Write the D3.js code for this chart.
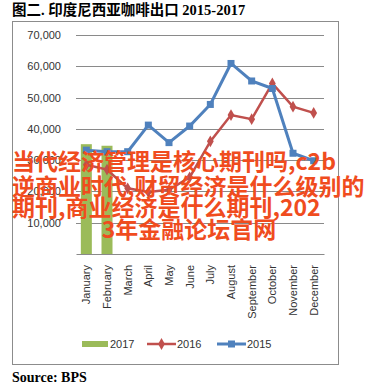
<!DOCTYPE html>
<html>
<head>
<meta charset="utf-8">
<script src="https://cdn.jsdelivr.net/npm/d3@7"></script>
<style>
  body { margin: 0; background: #fff; }
  svg { display: block; }
</style>
</head>
<body>
<svg width="389" height="388"></svg>
<script>
// data
const months = ["January", "February", "March", "April", "May", "June",
  "July", "August", "September", "October", "November", "December"];
const exports2017 = [35100, 34600];
const exports2016 = [28500, 27000, 21000, 19800, 20500, 24500, 36000, 44400, 43100, 54500, 47100, 45100];
const exports2015 = [33200, 32700, 32700, 41200, 35600, 40900, 47800, 60900, 55300, 52900, 32200, 29800];
const yTicks = [10000, 20000, 30000, 40000, 50000, 60000, 70000];
const legendItems = ["2017", "2016", "2015"];
const overlayLines = [
  "当代经济管理是核心期刊吗,c2b",
  "逆商业时代,财贸经济是什么级别的",
  "期刊,商业经济是什么期刊,202",
  "3年金融论坛官网"
];

const green = "#9bbb59", red = "#c0504d", blue = "#4f81bd";

let svg = d3.select("svg");

// title
svg.append("text")
  .attr("x", 12).attr("y", 15)
  .style("font-family", "'Liberation Serif', 'Noto Sans CJK SC', serif")
  .style("font-weight", "bold")
  .style("font-size", "14.5px")
  .text("图二. 印度尼西亚咖啡出口 2015-2017");

// chart frame
svg.append("rect")
  .attr("x", 12.5).attr("y", 21.5)
  .attr("width", 326).attr("height", 343)
  .attr("fill", "none")
  .attr("stroke", "#8c8c8c");

let x = d3.scaleBand().domain(months).range([76, 324]);
let y = d3.scaleLinear().domain([0, 70000]).range([254, 35]);

// gridlines
svg.append("g")
  .selectAll("line")
  .data(yTicks)
  .join("line")
  .attr("x1", 76).attr("x2", 324)
  .attr("y1", d => Math.round(y(d)) + 0.5)
  .attr("y2", d => Math.round(y(d)) + 0.5)
  .attr("stroke", "#8a8a8a");

// y axis labels
let yAxis = svg.append("g")
  .attr("transform", "translate(76,0)")
  .call(d3.axisLeft(y).tickValues(yTicks).tickSize(0).tickPadding(15).tickFormat(d3.format(",")));
yAxis.select(".domain").remove();
yAxis.selectAll("text")
  .style("font-family", "'Liberation Sans', Arial, sans-serif")
  .style("font-size", "11px")
  .attr("fill", "#333");

// bars 2017
let barW = 11;
svg.append("g")
  .selectAll("rect")
  .data(exports2017)
  .join("rect")
  .attr("x", (d, i) => x(months[i]) + x.bandwidth() / 2 - barW / 2)
  .attr("y", d => y(d))
  .attr("width", barW)
  .attr("height", d => y(0) - y(d))
  .attr("fill", green);

// x axis
let xAxis = svg.append("g")
  .attr("transform", "translate(0," + y(0) + ")")
  .call(d3.axisBottom(x).tickSize(0).tickPadding(0));
xAxis.select(".domain").attr("stroke", "#8a8a8a");
xAxis.selectAll("text")
  .attr("transform", "rotate(-90)")
  .attr("x", -11).attr("y", 0).attr("dy", "0.35em")
  .style("text-anchor", "end")
  .style("font-family", "'Liberation Sans', Arial, sans-serif")
  .style("font-size", "11px")
  .attr("fill", "#333");

let line = d3.line()
  .x((d, i) => x(months[i]) + x.bandwidth() / 2)
  .y(d => y(d));

// 2016
svg.append("path")
  .datum(exports2016)
  .attr("d", line)
  .attr("fill", "none")
  .attr("stroke", red)
  .attr("stroke-width", 2.5);
svg.append("g")
  .selectAll("path")
  .data(exports2016)
  .join("path")
  .attr("d", d3.symbol(d3.symbolDiamond, 40))
  .attr("transform", (d, i) => `translate(${x(months[i]) + x.bandwidth() / 2},${y(d)})`)
  .attr("fill", red);

// 2015
svg.append("path")
  .datum(exports2015)
  .attr("d", line)
  .attr("fill", "none")
  .attr("stroke", blue)
  .attr("stroke-width", 3);
svg.append("g")
  .selectAll("rect")
  .data(exports2015)
  .join("rect")
  .attr("x", (d, i) => x(months[i]) + x.bandwidth() / 2 - 3.5)
  .attr("y", d => y(d) - 3.5)
  .attr("width", 7).attr("height", 7)
  .attr("fill", blue);

// legend
let legend = svg.append("g").attr("transform", "translate(0,344)");
let legendX = [82, 147, 217];
legend.selectAll("g")
  .data(legendItems)
  .join("g")
  .attr("transform", (d, i) => `translate(${legendX[i]},0)`)
  .each(function (d, i) {
    let g = d3.select(this);
    if (i == 0) {
      g.append("rect").attr("x", 0).attr("y", -3).attr("width", 26).attr("height", 6).attr("fill", green);
    } else {
      let c = i == 1 ? red : blue;
      g.append("line").attr("x1", 0).attr("x2", 29).attr("stroke", c).attr("stroke-width", i == 1 ? 2.5 : 3);
      if (i == 1) {
        g.append("path").attr("d", d3.symbol(d3.symbolDiamond, 40)).attr("transform", "translate(14.5,0)").attr("fill", c);
      } else {
        g.append("rect").attr("x", 11).attr("y", -3.5).attr("width", 7).attr("height", 7).attr("fill", c);
      }
    }
    g.append("text")
      .attr("x", i == 0 ? 28 : 30).attr("y", 0).attr("dy", "0.35em")
      .style("font-family", "'Liberation Sans', Arial, sans-serif")
      .style("font-size", "11px")
      .attr("fill", "#333")
      .text(d);
  });

// source note
svg.append("text")
  .attr("x", 12).attr("y", 382)
  .style("font-family", "'Liberation Serif', serif")
  .style("font-weight", "bold")
  .style("font-size", "14px")
  .text("Source: BPS");

// overlay text on top of the chart
let overlayPos = [[12, 170], [12, 195], [12, 216], [189, 238]];
svg.append("g")
  .selectAll("text")
  .data(overlayLines)
  .join("text")
  .attr("x", (d, i) => overlayPos[i][0])
  .attr("y", (d, i) => overlayPos[i][1])
  .style("text-anchor", (d, i) => i == 3 ? "middle" : "start")
  .style("font-family", "'Noto Sans CJK SC', sans-serif")
  .style("font-weight", "bold")
  .style("font-size", "23px")
  .attr("fill", "#f04c1e")
  .text(d => d);
</script>
</body>
</html>
